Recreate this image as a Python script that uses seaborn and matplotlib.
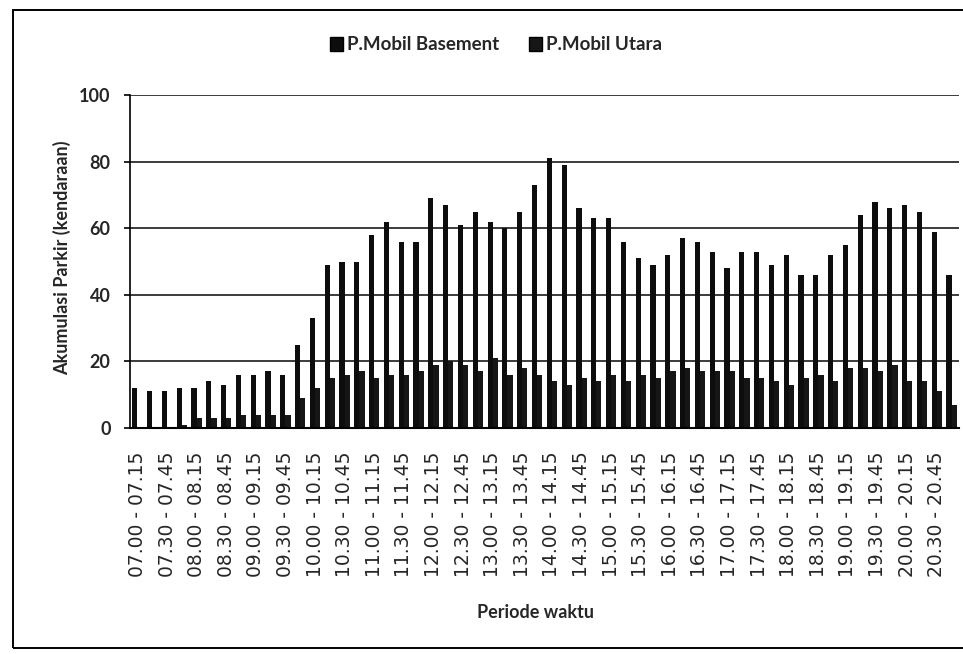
import matplotlib
matplotlib.use("Agg")
import matplotlib.pyplot as plt
from matplotlib.patches import Patch, Rectangle
import seaborn as sns
import pandas as pd

periods = [
    "07.00 - 07.15", "07.15 - 07.30", "07.30 - 07.45", "07.45 - 08.00",
    "08.00 - 08.15", "08.15 - 08.30", "08.30 - 08.45", "08.45 - 09.00",
    "09.00 - 09.15", "09.15 - 09.30", "09.30 - 09.45", "09.45 - 10.00",
    "10.00 - 10.15", "10.15 - 10.30", "10.30 - 10.45", "10.45 - 11.00",
    "11.00 - 11.15", "11.15 - 11.30", "11.30 - 11.45", "11.45 - 12.00",
    "12.00 - 12.15", "12.15 - 12.30", "12.30 - 12.45", "12.45 - 13.00",
    "13.00 - 13.15", "13.15 - 13.30", "13.30 - 13.45", "13.45 - 14.00",
    "14.00 - 14.15", "14.15 - 14.30", "14.30 - 14.45", "14.45 - 15.00",
    "15.00 - 15.15", "15.15 - 15.30", "15.30 - 15.45", "15.45 - 16.00",
    "16.00 - 16.15", "16.15 - 16.30", "16.30 - 16.45", "16.45 - 17.00",
    "17.00 - 17.15", "17.15 - 17.30", "17.30 - 17.45", "17.45 - 18.00",
    "18.00 - 18.15", "18.15 - 18.30", "18.30 - 18.45", "18.45 - 19.00",
    "19.00 - 19.15", "19.15 - 19.30", "19.30 - 19.45", "19.45 - 20.00",
    "20.00 - 20.15", "20.15 - 20.30", "20.30 - 20.45", "20.45 - 21.00",
]

basement = [12, 11, 11, 12, 12, 14, 13, 16, 16, 17, 16, 25, 33, 49, 50, 50,
            58, 62, 56, 56, 69, 67, 61, 65, 62, 60, 65, 73, 81, 79, 66, 63,
            63, 56, 51, 49, 52, 57, 56, 53, 48, 53, 53, 49, 52, 46, 46, 52,
            55, 64, 68, 66, 67, 65, 59, 46]

utara = [0, 0, 0, 1, 3, 3, 3, 4, 4, 4, 4, 9, 12, 15, 16, 17,
         15, 16, 16, 17, 19, 20, 19, 17, 21, 16, 18, 16, 14, 13, 15, 14,
         16, 14, 16, 15, 17, 18, 17, 17, 17, 15, 15, 14, 13, 15, 16, 14,
         18, 18, 17, 19, 14, 14, 11, 7]

series_names = ["P.Mobil Basement", "P.Mobil Utara"]
series_colors = ["#0d0d0d", "#161616"]

df = pd.DataFrame({
    "Periode": periods * 2,
    "Seri": [series_names[0]] * len(periods) + [series_names[1]] * len(periods),
    "Nilai": basement + utara,
})

sns.set_style("white")
plt.rcParams["font.family"] = ["Lato", "DejaVu Sans"]

W, H = 963, 654
fig = plt.figure(figsize=(W / 100, H / 100), dpi=100)
ax = fig.add_axes([130 / W, 1 - 428 / H, (959 - 130) / W, (428 - 95) / H])

sns.barplot(data=df, x="Periode", y="Nilai", hue="Seri", order=periods,
            hue_order=series_names, palette=series_colors, width=0.7,
            saturation=1, linewidth=0, ax=ax, legend=False)

ax.set_xlim(-0.5, len(periods) - 0.5)
ax.set_ylim(0, 100)
ax.set_yticks([0, 20, 40, 60, 80, 100])
ax.set_yticklabels(["0", "20", "40", "60", "80", "100"], fontsize=13,
                   fontweight="bold", family=["Lato", "DejaVu Sans"])
ax.set_xticks(range(0, len(periods), 2))
ax.set_xticklabels(periods[::2], rotation=90, fontsize=13.5,
                   family=["DejaVu Sans"])
ax.tick_params(axis="x", length=0, pad=17)
ax.tick_params(axis="y", length=4, width=1.2, color="black", pad=10,
               direction="out", left=True)
ax.yaxis.grid(True, color="#1a1a1a", linewidth=1.2)
ax.xaxis.grid(False)
ax.set_axisbelow(True)
for s in ["top", "right"]:
    ax.spines[s].set_visible(False)
ax.spines["left"].set_color("black")
ax.spines["left"].set_linewidth(1.2)
ax.spines["bottom"].set_color("black")
ax.spines["bottom"].set_linewidth(1.5)
ax.set_xlabel("")
ax.set_ylabel("")

fig.text(62 / W, 1 - 258 / H, "Akumulasi Parkir (kendaraan)", rotation=90,
         ha="center", va="center", fontsize=13, fontweight="bold")
fig.text(535 / W, 1 - 612 / H, "Periode waktu", ha="center", va="center",
         fontsize=13, fontweight="bold")

handles = [Patch(facecolor=c, edgecolor="black", label=n)
           for n, c in zip(series_names, series_colors)]
fig.legend(handles=handles, loc="center", bbox_to_anchor=(496 / W, 1 - 45 / H),
           ncol=2, frameon=False, prop={"weight": "bold", "size": 13.5},
           handlelength=0.7, handleheight=0.7, handletextpad=0.2,
           columnspacing=1.6)

fig.patches.append(Rectangle((13 / W, 1 - 648 / H), 1.2, (648 - 10) / H,
                             transform=fig.transFigure, fill=False,
                             edgecolor="black", linewidth=1.4, clip_on=False))

fig.savefig("out.png", dpi=100)
